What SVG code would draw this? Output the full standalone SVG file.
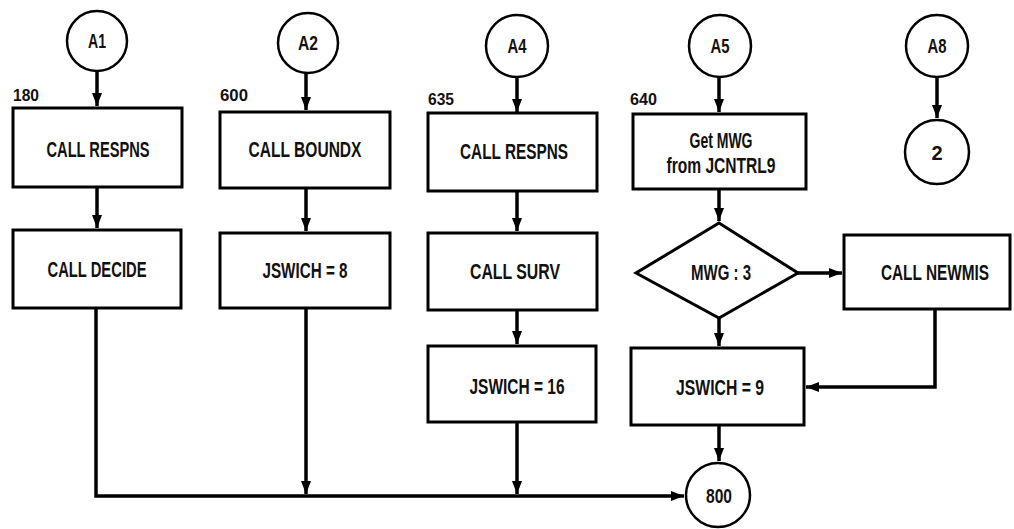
<svg xmlns="http://www.w3.org/2000/svg" width="1014" height="529" viewBox="0 0 1014 529">
<style>
.bx{fill:#fff;stroke:#000;stroke-width:3}
.cr{fill:#fff;stroke:#000;stroke-width:2.5}
.ln{fill:none;stroke:#000;stroke-width:3.5}
.t{font-family:"Liberation Sans",Arial,sans-serif;font-weight:bold;font-size:22px;fill:#111;text-anchor:middle}
.c{font-family:"Liberation Sans",Arial,sans-serif;font-weight:bold;font-size:20px;fill:#111;text-anchor:middle}
.n{font-family:"Liberation Sans",Arial,sans-serif;font-weight:bold;font-size:17px;fill:#111}
</style>
<defs>
<marker id="ah" markerUnits="userSpaceOnUse" markerWidth="14" markerHeight="12" refX="13" refY="6" orient="auto">
<path d="M0,1 L13,6 L0,11 z" fill="#000"/>
</marker>
</defs>
<rect width="1014" height="529" fill="#fff"/>
<g id="connectors">
<line class="ln" x1="97" y1="71" x2="97" y2="106" marker-end="url(#ah)"/>
<line class="ln" x1="97" y1="187" x2="97" y2="228" marker-end="url(#ah)"/>
<polyline class="ln" points="96,308 96,496 684,496" marker-end="url(#ah)"/>
<line class="ln" x1="306" y1="73" x2="306" y2="110" marker-end="url(#ah)"/>
<line class="ln" x1="306" y1="188" x2="306" y2="231" marker-end="url(#ah)"/>
<line class="ln" x1="306" y1="308" x2="306" y2="494" marker-end="url(#ah)"/>
<line class="ln" x1="517" y1="78" x2="517" y2="112" marker-end="url(#ah)"/>
<line class="ln" x1="517" y1="191" x2="517" y2="231" marker-end="url(#ah)"/>
<line class="ln" x1="517" y1="310" x2="517" y2="344" marker-end="url(#ah)"/>
<line class="ln" x1="517" y1="422" x2="517" y2="494" marker-end="url(#ah)"/>
<line class="ln" x1="719" y1="78" x2="719" y2="112" marker-end="url(#ah)"/>
<line class="ln" x1="719" y1="189" x2="719" y2="221" marker-end="url(#ah)"/>
<line class="ln" x1="798" y1="273" x2="842" y2="273" marker-end="url(#ah)"/>
<line class="ln" x1="719" y1="318" x2="719" y2="346" marker-end="url(#ah)"/>
<polyline class="ln" points="935,309 935,387 806,387" marker-end="url(#ah)"/>
<line class="ln" x1="719" y1="425" x2="719" y2="461" marker-end="url(#ah)"/>
<line class="ln" x1="937" y1="78" x2="937" y2="118" marker-end="url(#ah)"/>
</g>
<g id="A1"><circle class="cr" cx="97" cy="41" r="30"/><text class="c" x="97" y="48" textLength="18" lengthAdjust="spacingAndGlyphs">A1</text></g>
<g id="A2"><circle class="cr" cx="308" cy="43" r="30"/><text class="c" x="308" y="50" textLength="20" lengthAdjust="spacingAndGlyphs">A2</text></g>
<g id="A4"><circle class="cr" cx="517" cy="46" r="31"/><text class="c" x="517" y="53" textLength="19" lengthAdjust="spacingAndGlyphs">A4</text></g>
<g id="A5"><circle class="cr" cx="720" cy="46" r="31"/><text class="c" x="720" y="53" textLength="19" lengthAdjust="spacingAndGlyphs">A5</text></g>
<g id="A8"><circle class="cr" cx="937" cy="46" r="31"/><text class="c" x="937" y="53" textLength="19" lengthAdjust="spacingAndGlyphs">A8</text></g>
<g id="C2"><circle class="cr" cx="937" cy="152" r="32"/><text class="c" x="937" y="160">2</text></g>
<g id="C800"><circle class="cr" cx="718" cy="495" r="32"/><text class="c" x="719" y="503" textLength="26" lengthAdjust="spacingAndGlyphs">800</text></g>
<g id="n180"><text class="n" x="13" y="101" textLength="26" lengthAdjust="spacingAndGlyphs">180</text></g>
<g id="n600"><text class="n" x="220" y="101" textLength="28" lengthAdjust="spacingAndGlyphs">600</text></g>
<g id="n635"><text class="n" x="428" y="105" textLength="26" lengthAdjust="spacingAndGlyphs">635</text></g>
<g id="n640"><text class="n" x="630" y="105" textLength="27" lengthAdjust="spacingAndGlyphs">640</text></g>
<g id="b1"><rect class="bx" x="13" y="108" width="169" height="79"/><text class="t" x="98" y="157" textLength="103" lengthAdjust="spacingAndGlyphs">CALL RESPNS</text></g>
<g id="b2"><rect class="bx" x="13" y="230" width="168" height="78"/><text class="t" x="97" y="277" textLength="99" lengthAdjust="spacingAndGlyphs">CALL DECIDE</text></g>
<g id="b3"><rect class="bx" x="220" y="112" width="170" height="76"/><text class="t" x="305" y="157" textLength="113" lengthAdjust="spacingAndGlyphs">CALL BOUNDX</text></g>
<g id="b4"><rect class="bx" x="220" y="233" width="170" height="75"/><text class="t" x="305" y="278" textLength="85" lengthAdjust="spacingAndGlyphs">JSWICH = 8</text></g>
<g id="b5"><rect class="bx" x="428" y="113" width="169" height="78"/><text class="t" x="514" y="159" textLength="108" lengthAdjust="spacingAndGlyphs">CALL RESPNS</text></g>
<g id="b6"><rect class="bx" x="428" y="233" width="169" height="77"/><text class="t" x="515" y="279" textLength="90" lengthAdjust="spacingAndGlyphs">CALL SURV</text></g>
<g id="b7"><rect class="bx" x="428" y="346" width="168" height="76"/><text class="t" x="517" y="394" textLength="95" lengthAdjust="spacingAndGlyphs">JSWICH = 16</text></g>
<g id="b8"><rect class="bx" x="633" y="114" width="173" height="75"/><text class="t" x="721" y="148" textLength="63" lengthAdjust="spacingAndGlyphs">Get MWG</text><text class="t" x="721" y="173" textLength="109" lengthAdjust="spacingAndGlyphs">from JCNTRL9</text></g>
<g id="d1"><polygon class="bx" points="719,223 798,273 719,318 636,273"/><text class="t" x="721" y="280" textLength="60" lengthAdjust="spacingAndGlyphs">MWG : 3</text></g>
<g id="b9"><rect class="bx" x="844" y="235" width="166" height="74"/><text class="t" transform="translate(935,280) scale(0.7,1)" x="0" y="0">CALL NEWMIS</text></g>
<g id="b10"><rect class="bx" x="631" y="348" width="173" height="77"/><text class="t" x="720" y="395" textLength="88" lengthAdjust="spacingAndGlyphs">JSWICH = 9</text></g>
</svg>
